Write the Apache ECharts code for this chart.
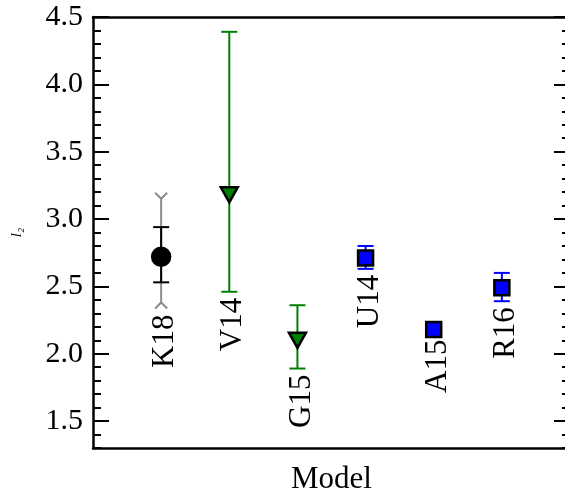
<!DOCTYPE html>
<html>
<head>
<meta charset="utf-8">
<script src="https://cdn.jsdelivr.net/npm/echarts@6/dist/echarts.min.js"></script>
<style>
  html, body { margin: 0; padding: 0; background: #fff; }
  #chart { width: 565px; height: 499px; }
</style>
</head>
<body>
<div id="chart"></div>
<script>
// models, plotted at x = 1..6
const models = ['K18', 'V14', 'G15', 'U14', 'A15', 'R16']
const values = [2.72, 3.18, 2.10, 2.71, 2.18, 2.49]
const errLow = [2.53, 2.46, 1.89, 2.63, 2.15, 2.39]
const errHigh = [2.94, 4.39, 2.36, 2.80, 2.21, 2.60]
// wider range, only K18 has one
const outerLow = [2.38, null, null, null, null, null]
const outerHigh = [3.15, null, null, null, null, null]
const yTicks = [1.5, 2.0, 2.5, 3.0, 3.5, 4.0, 4.5]

const FONT = '"Liberation Serif", "DejaVu Serif", serif'
// marker look per model
const styles = [
  { symbol: 'circle', size: 18, rot: 0, fill: '#000000', bar: '#000000' },
  { symbol: 'triangle', size: [17, 15], rot: 180, fill: '#008000', bar: '#008000' },
  { symbol: 'triangle', size: [17, 15], rot: 180, fill: '#008000', bar: '#008000' },
  { symbol: 'rect', size: 15, rot: 0, fill: '#0000ff', bar: '#0000ff' },
  { symbol: 'rect', size: 15, rot: 0, fill: '#0000ff', bar: '#0000ff' },
  { symbol: 'rect', size: 15, rot: 0, fill: '#0000ff', bar: '#0000ff' },
]

function seg(x1, y1, x2, y2, color) {
  return { type: 'line', shape: { x1, y1, x2, y2 }, style: { stroke: color, lineWidth: 2 } }
}

// error bars + rotated model names
function renderBars(params, api) {
  const i = params.dataIndex
  const x = api.value(0)
  const st = styles[i]
  const kids = []
  const t = api.coord([x, errHigh[i]])
  const b = api.coord([x, errLow[i]])
  let lowest = b[1]
  if (outerLow[i] != null) {
    const ot = api.coord([x, outerHigh[i]])
    const ob = api.coord([x, outerLow[i]])
    const g = '#8c8c8c'
    kids.push(seg(ot[0], ot[1], ob[0], ob[1], g))
    kids.push({ type: 'polyline', shape: { points: [[ot[0] - 6, ot[1] - 6], [ot[0], ot[1]], [ot[0] + 6, ot[1] - 6]] }, style: { stroke: g, lineWidth: 2, fill: null } })
    kids.push({ type: 'polyline', shape: { points: [[ob[0] - 6, ob[1] + 6], [ob[0], ob[1]], [ob[0] + 6, ob[1] + 6]] }, style: { stroke: g, lineWidth: 2, fill: null } })
    lowest = ob[1] + 6
  }
  kids.push(seg(t[0], t[1], b[0], b[1], st.bar))
  kids.push(seg(t[0] - 8, t[1], t[0] + 8, t[1], st.bar))
  kids.push(seg(b[0] - 8, b[1], b[0] + 8, b[1], st.bar))
  kids.push({
    type: 'text',
    x: b[0] + 4,
    y: lowest + 6,
    rotation: Math.PI / 2,
    style: { text: models[i], fontFamily: FONT, fontSize: 31, fill: '#000', align: 'right', verticalAlign: 'middle' }
  })
  return { type: 'group', children: kids }
}

function isMajor(v) {
  return yTicks.some((t) => Math.abs(t - v) < 1e-6)
}

const chart = echarts.init(document.getElementById('chart'))
const grid = { left: 93, top: 17, width: 477, height: 431, outerBoundsMode: 'none', containLabel: false }
const yBase = { type: 'value', min: 1.3, max: 4.5, splitLine: { show: false } }

chart.setOption({
  animation: false,
  textStyle: { fontFamily: FONT },
  grid: grid,
  xAxis: [
    {
      type: 'value', min: 0, max: 7, position: 'bottom',
      axisLine: { lineStyle: { color: '#000', width: 2.5 } },
      axisTick: { show: false }, axisLabel: { show: false }, splitLine: { show: false },
      name: 'Model', nameLocation: 'middle', nameGap: 16,
      nameTextStyle: { fontFamily: FONT, fontSize: 31, color: '#000' }
    },
    {
      type: 'value', min: 0, max: 7, position: 'top',
      axisLine: { lineStyle: { color: '#000', width: 2.5 } },
      axisTick: { show: false }, axisLabel: { show: false }, splitLine: { show: false }
    }
  ],
  yAxis: [
    // majors, left
    Object.assign({}, yBase, {
      position: 'left',
      axisLine: { show: true, lineStyle: { color: '#000', width: 2.5 } },
      axisTick: { show: true, inside: true, length: 16, customValues: yTicks, lineStyle: { color: '#000', width: 2 } },
      axisLabel: { show: false },
      name: 'l\u2082', nameLocation: 'middle', nameRotate: 90, nameGap: 68,
      nameTextStyle: { fontFamily: FONT, fontSize: 15, fontStyle: 'italic', color: '#000' }
    }),
    // minors + labels, left
    Object.assign({}, yBase, {
      position: 'left', interval: 0.1,
      axisLine: { show: false },
      axisTick: { show: true, inside: true, length: 8, lineStyle: { color: '#000', width: 2 } },
      axisLabel: {
        formatter: (v) => (isMajor(v) ? Number(v).toFixed(1) : ''),
        fontFamily: FONT, fontSize: 30, color: '#000', margin: 10
      }
    }),
    // majors, right
    Object.assign({}, yBase, {
      position: 'right',
      axisLine: { show: true, lineStyle: { color: '#000', width: 2.5 } },
      axisTick: { show: true, inside: true, length: 16, customValues: yTicks, lineStyle: { color: '#000', width: 2 } },
      axisLabel: { show: false }
    }),
    // minors, right
    Object.assign({}, yBase, {
      position: 'right', interval: 0.1,
      axisLine: { show: false },
      axisTick: { show: true, inside: true, length: 8, lineStyle: { color: '#000', width: 2 } },
      axisLabel: { show: false }
    })
  ],
  series: [
    {
      type: 'custom',
      renderItem: renderBars,
      clip: false,
      z: 2,
      data: models.map((m, i) => [i + 1, values[i]])
    },
    {
      type: 'scatter',
      z: 3,
      data: models.map((m, i) => ({
        value: [i + 1, values[i]],
        symbol: styles[i].symbol,
        symbolSize: styles[i].size,
        symbolRotate: styles[i].rot,
        itemStyle: { color: styles[i].fill, borderColor: '#000', borderWidth: 2.5, opacity: 1 }
      }))
    }
  ]
})
</script>
</body>
</html>
